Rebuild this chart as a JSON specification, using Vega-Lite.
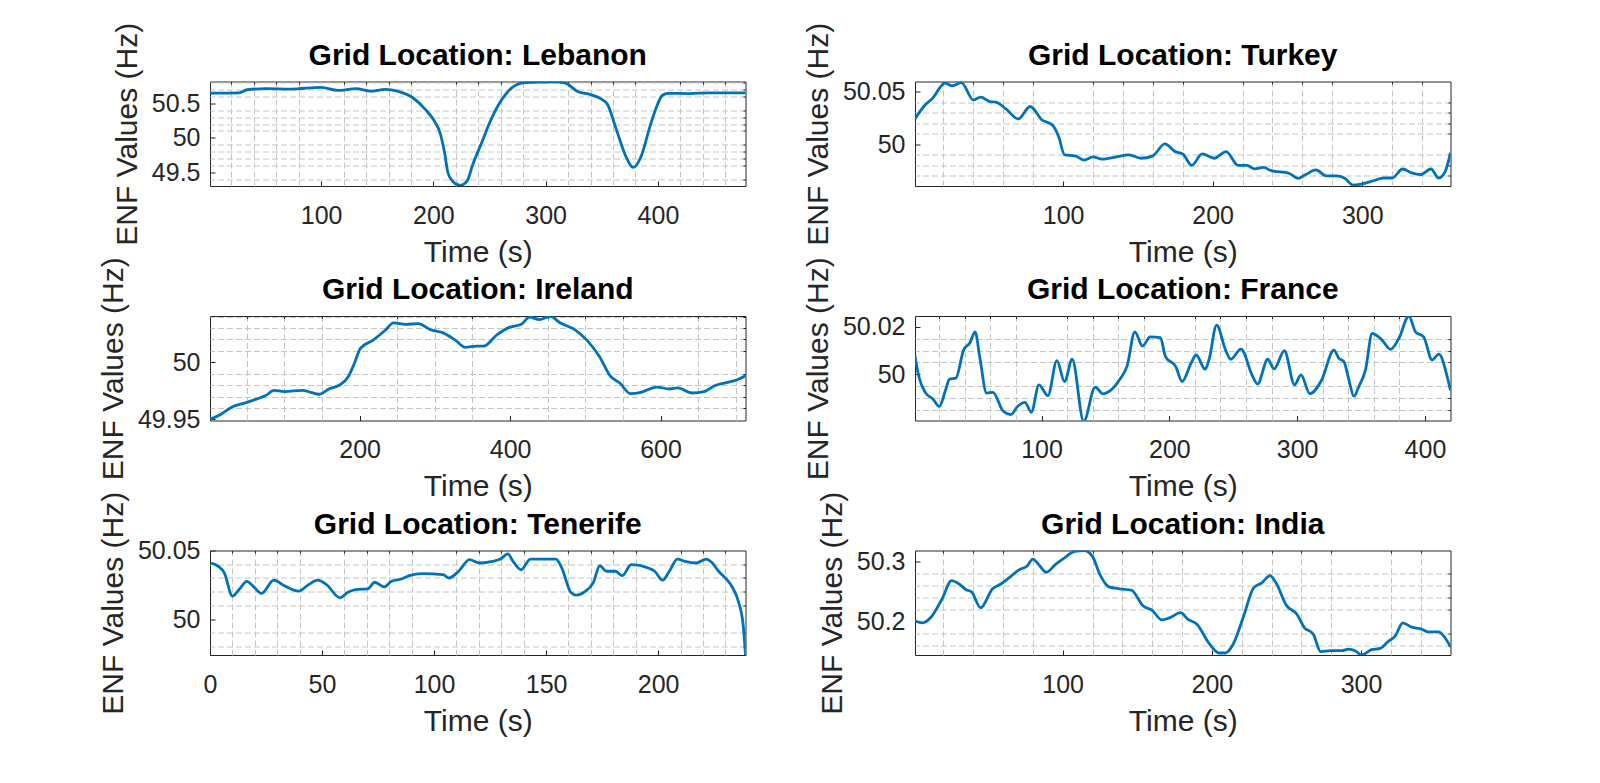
{
  "$schema": "https://vega.github.io/schema/vega-lite/v6.json",
  "background": "white",
  "padding": {"left": 97, "top": 21.5, "right": 5, "bottom": 5},
  "bounds": "flush",
  "columns": 2,
  "spacing": {"row": 129.5, "column": 169},
  "datasets": {
    "lebanon": [
      {"t": 1, "f": 50.65}, {"t": 27, "f": 50.655}, {"t": 34, "f": 50.7}, {"t": 51, "f": 50.715},
      {"t": 73, "f": 50.71}, {"t": 100, "f": 50.735}, {"t": 115, "f": 50.69}, {"t": 131, "f": 50.715},
      {"t": 144, "f": 50.68}, {"t": 157, "f": 50.705}, {"t": 168, "f": 50.68}, {"t": 182, "f": 50.58},
      {"t": 193, "f": 50.41}, {"t": 201, "f": 50.24}, {"t": 206, "f": 50.07}, {"t": 210, "f": 49.78},
      {"t": 213, "f": 49.49}, {"t": 219, "f": 49.34}, {"t": 224, "f": 49.31}, {"t": 230, "f": 49.37},
      {"t": 235, "f": 49.61}, {"t": 243, "f": 49.93}, {"t": 252, "f": 50.29}, {"t": 261, "f": 50.56},
      {"t": 270, "f": 50.73}, {"t": 281, "f": 50.805}, {"t": 292, "f": 50.81}, {"t": 307, "f": 50.815},
      {"t": 317, "f": 50.8}, {"t": 329, "f": 50.67}, {"t": 340, "f": 50.63}, {"t": 349, "f": 50.57},
      {"t": 355, "f": 50.49}, {"t": 363, "f": 50.12}, {"t": 372, "f": 49.71}, {"t": 378, "f": 49.57},
      {"t": 385, "f": 49.73}, {"t": 393, "f": 50.17}, {"t": 399, "f": 50.46}, {"t": 404, "f": 50.62},
      {"t": 409, "f": 50.647}, {"t": 428, "f": 50.645}, {"t": 446, "f": 50.655}, {"t": 478, "f": 50.655}
    ],
    "turkey": [
      {"t": 1, "f": 50.024}, {"t": 7, "f": 50.036}, {"t": 13, "f": 50.044}, {"t": 21, "f": 50.058},
      {"t": 26, "f": 50.0554}, {"t": 32, "f": 50.0585}, {"t": 40, "f": 50.042}, {"t": 45, "f": 50.0446},
      {"t": 51, "f": 50.0405}, {"t": 55, "f": 50.04}, {"t": 62, "f": 50.0332}, {"t": 70, "f": 50.024},
      {"t": 78, "f": 50.0358}, {"t": 86, "f": 50.023}, {"t": 93, "f": 50.018}, {"t": 97, "f": 50.0073},
      {"t": 101, "f": 49.9899}, {"t": 108, "f": 49.989}, {"t": 114, "f": 49.985}, {"t": 120, "f": 49.988},
      {"t": 126, "f": 49.9858}, {"t": 135, "f": 49.9877}, {"t": 144, "f": 49.9899}, {"t": 152, "f": 49.9867},
      {"t": 160, "f": 49.989}, {"t": 168, "f": 50.0003}, {"t": 175, "f": 49.993}, {"t": 180, "f": 49.9908},
      {"t": 186, "f": 49.98}, {"t": 193, "f": 49.9908}, {"t": 201, "f": 49.9867}, {"t": 209, "f": 49.993},
      {"t": 217, "f": 49.98}, {"t": 223, "f": 49.98}, {"t": 228, "f": 49.9766}, {"t": 234, "f": 49.978},
      {"t": 239, "f": 49.975}, {"t": 251, "f": 49.9725}, {"t": 257, "f": 49.9677}, {"t": 262, "f": 49.971},
      {"t": 269, "f": 49.9756}, {"t": 276, "f": 49.97}, {"t": 283, "f": 49.97}, {"t": 288, "f": 49.968},
      {"t": 294, "f": 49.9612}, {"t": 300, "f": 49.9625}, {"t": 308, "f": 49.9656}, {"t": 314, "f": 49.968},
      {"t": 320, "f": 49.968}, {"t": 327, "f": 49.9765}, {"t": 333, "f": 49.9728}, {"t": 339, "f": 49.9712},
      {"t": 346, "f": 49.9765}, {"t": 351, "f": 49.968}, {"t": 355.5, "f": 49.9743}, {"t": 359, "f": 49.992}
    ],
    "ireland": [
      {"t": 1, "f": 49.95}, {"t": 15, "f": 49.9543}, {"t": 31, "f": 49.961}, {"t": 48, "f": 49.9644},
      {"t": 64, "f": 49.968}, {"t": 75, "f": 49.9708}, {"t": 86, "f": 49.9754}, {"t": 100, "f": 49.9743},
      {"t": 124, "f": 49.9754}, {"t": 135, "f": 49.9737}, {"t": 146, "f": 49.972}, {"t": 160, "f": 49.9769},
      {"t": 174, "f": 49.9803}, {"t": 185, "f": 49.9876}, {"t": 193, "f": 49.9991}, {"t": 201, "f": 50.0121},
      {"t": 218, "f": 50.0194}, {"t": 234, "f": 50.028}, {"t": 245, "f": 50.0344}, {"t": 261, "f": 50.0332},
      {"t": 278, "f": 50.0338}, {"t": 294, "f": 50.0286}, {"t": 311, "f": 50.0257}, {"t": 327, "f": 50.0194},
      {"t": 341, "f": 50.013}, {"t": 355, "f": 50.0142}, {"t": 365, "f": 50.0142}, {"t": 382, "f": 50.0237},
      {"t": 398, "f": 50.0303}, {"t": 415, "f": 50.0332}, {"t": 426, "f": 50.0396}, {"t": 439, "f": 50.0373},
      {"t": 453, "f": 50.0402}, {"t": 467, "f": 50.0344}, {"t": 486, "f": 50.0286}, {"t": 502, "f": 50.0194},
      {"t": 519, "f": 50.0049}, {"t": 533, "f": 49.9881}, {"t": 546, "f": 49.9818}, {"t": 560, "f": 49.9725},
      {"t": 574, "f": 49.9737}, {"t": 595, "f": 49.9783}, {"t": 612, "f": 49.9766}, {"t": 623, "f": 49.9775},
      {"t": 642, "f": 49.9731}, {"t": 658, "f": 49.9743}, {"t": 672, "f": 49.9795}, {"t": 689, "f": 49.9824},
      {"t": 702, "f": 49.9847}, {"t": 713, "f": 49.9881}
    ],
    "france": [
      {"t": 1, "f": 50.0077}, {"t": 4, "f": 49.999}, {"t": 9, "f": 49.9923}, {"t": 15, "f": 49.9895},
      {"t": 20, "f": 49.9864}, {"t": 25, "f": 49.9934}, {"t": 28, "f": 49.9979}, {"t": 33, "f": 49.9983},
      {"t": 39, "f": 50.0102}, {"t": 44, "f": 50.0133}, {"t": 48, "f": 50.0179}, {"t": 52, "f": 50.006},
      {"t": 57, "f": 49.992}, {"t": 62, "f": 49.9923}, {"t": 70, "f": 49.9843}, {"t": 76, "f": 49.9829},
      {"t": 81, "f": 49.9862}, {"t": 87, "f": 49.9881}, {"t": 92, "f": 49.9839}, {"t": 98, "f": 49.9955},
      {"t": 105, "f": 49.9909}, {"t": 112, "f": 50.0057}, {"t": 118, "f": 49.9969}, {"t": 124, "f": 50.0063},
      {"t": 133, "f": 49.9801}, {"t": 142, "f": 49.9945}, {"t": 148, "f": 49.9917}, {"t": 154, "f": 49.9931},
      {"t": 161, "f": 49.9976}, {"t": 167, "f": 50.0035}, {"t": 173, "f": 50.0179}, {"t": 179, "f": 50.0119},
      {"t": 185, "f": 50.0158}, {"t": 193, "f": 50.0155}, {"t": 197, "f": 50.0074}, {"t": 205, "f": 50.0032},
      {"t": 210, "f": 49.9969}, {"t": 217, "f": 50.0046}, {"t": 221, "f": 50.0081}, {"t": 228, "f": 50.0021},
      {"t": 231, "f": 50.006}, {"t": 237, "f": 50.0207}, {"t": 244, "f": 50.0102}, {"t": 248, "f": 50.0063},
      {"t": 256, "f": 50.0106}, {"t": 265, "f": 49.9993}, {"t": 269, "f": 49.9958}, {"t": 277, "f": 50.0063},
      {"t": 282, "f": 50.0022}, {"t": 290, "f": 50.0099}, {"t": 298, "f": 49.9955}, {"t": 303, "f": 49.9997},
      {"t": 310, "f": 49.9917}, {"t": 319, "f": 49.9973}, {"t": 328.8, "f": 50.0102}, {"t": 332.7, "f": 50.0067},
      {"t": 336.6, "f": 50.0053}, {"t": 340.5, "f": 49.9976}, {"t": 344.4, "f": 49.9906}, {"t": 348.3, "f": 49.9948},
      {"t": 353.5, "f": 50.0018}, {"t": 358.7, "f": 50.0172}, {"t": 366.5, "f": 50.0144}, {"t": 373, "f": 50.0105},
      {"t": 379.6, "f": 50.0151}, {"t": 387.4, "f": 50.0246}, {"t": 392.6, "f": 50.0179}, {"t": 399, "f": 50.0158},
      {"t": 405.6, "f": 50.006}, {"t": 410.9, "f": 50.0085}, {"t": 417.4, "f": 49.999}, {"t": 420, "f": 49.9931}
    ],
    "tenerife": [
      {"t": 0.5, "f": 50.0409}, {"t": 3.7, "f": 50.0385}, {"t": 6.4, "f": 50.0337}, {"t": 10, "f": 50.0168},
      {"t": 13, "f": 50.0216}, {"t": 16.5, "f": 50.0276}, {"t": 19, "f": 50.0245}, {"t": 23, "f": 50.0188},
      {"t": 28.5, "f": 50.0284}, {"t": 33, "f": 50.0245}, {"t": 39.5, "f": 50.0204}, {"t": 44, "f": 50.0252},
      {"t": 48, "f": 50.0284}, {"t": 52, "f": 50.0252}, {"t": 58, "f": 50.0156}, {"t": 61.6, "f": 50.0197},
      {"t": 65, "f": 50.0216}, {"t": 70.4, "f": 50.0221}, {"t": 73.5, "f": 50.0269}, {"t": 77.8, "f": 50.0236},
      {"t": 81, "f": 50.0276}, {"t": 85.5, "f": 50.0293}, {"t": 89, "f": 50.0317}, {"t": 94.7, "f": 50.0332},
      {"t": 104, "f": 50.0325}, {"t": 106.6, "f": 50.03}, {"t": 111, "f": 50.0349}, {"t": 115.8, "f": 50.0433},
      {"t": 120, "f": 50.0409}, {"t": 126, "f": 50.0421}, {"t": 129.6, "f": 50.0438}, {"t": 133, "f": 50.0476},
      {"t": 135, "f": 50.0428}, {"t": 138.8, "f": 50.036}, {"t": 143, "f": 50.0438}, {"t": 154.4, "f": 50.0438},
      {"t": 157, "f": 50.0373}, {"t": 161, "f": 50.0197}, {"t": 163.6, "f": 50.0175}, {"t": 167, "f": 50.0197},
      {"t": 171, "f": 50.0264}, {"t": 174, "f": 50.0389}, {"t": 177, "f": 50.0349}, {"t": 181, "f": 50.0349},
      {"t": 184, "f": 50.0317}, {"t": 188, "f": 50.0397}, {"t": 195.6, "f": 50.0373}, {"t": 198.5, "f": 50.0349},
      {"t": 202, "f": 50.0284}, {"t": 205, "f": 50.0349}, {"t": 208.6, "f": 50.0438}, {"t": 212, "f": 50.0421},
      {"t": 217, "f": 50.0409}, {"t": 221.5, "f": 50.0438}, {"t": 224, "f": 50.0413}, {"t": 227, "f": 50.0349},
      {"t": 230.7, "f": 50.0288}, {"t": 233, "f": 50.0236}, {"t": 236, "f": 50.012}, {"t": 238, "f": 49.9952},
      {"t": 239, "f": 49.974}
    ],
    "india": [
      {"t": 1, "f": 50.201}, {"t": 6, "f": 50.198}, {"t": 12, "f": 50.208}, {"t": 19, "f": 50.237},
      {"t": 25.6, "f": 50.268}, {"t": 31, "f": 50.2615}, {"t": 35, "f": 50.2533}, {"t": 39, "f": 50.249},
      {"t": 45, "f": 50.223}, {"t": 53, "f": 50.2544}, {"t": 58, "f": 50.2615}, {"t": 64, "f": 50.2725},
      {"t": 71, "f": 50.2863}, {"t": 76, "f": 50.2918}, {"t": 80, "f": 50.3038}, {"t": 84, "f": 50.2945},
      {"t": 89, "f": 50.2819}, {"t": 95, "f": 50.2945}, {"t": 101, "f": 50.3055}, {"t": 108, "f": 50.3165},
      {"t": 114.5, "f": 50.318}, {"t": 120, "f": 50.3082}, {"t": 125, "f": 50.278}, {"t": 131, "f": 50.2577},
      {"t": 138, "f": 50.2544}, {"t": 146, "f": 50.2522}, {"t": 154, "f": 50.2258}, {"t": 160, "f": 50.2187},
      {"t": 166.5, "f": 50.2027}, {"t": 172, "f": 50.2066}, {"t": 179, "f": 50.2148}, {"t": 184, "f": 50.2038},
      {"t": 190, "f": 50.1956}, {"t": 198, "f": 50.1643}, {"t": 205, "f": 50.1478}, {"t": 209, "f": 50.1478},
      {"t": 214, "f": 50.161}, {"t": 221, "f": 50.2066}, {"t": 228, "f": 50.256}, {"t": 233.5, "f": 50.2643},
      {"t": 239, "f": 50.2764}, {"t": 243, "f": 50.2643}, {"t": 250, "f": 50.2269}, {"t": 257, "f": 50.2121},
      {"t": 262, "f": 50.1901}, {"t": 268, "f": 50.1791}, {"t": 273, "f": 50.15}, {"t": 280, "f": 50.1516},
      {"t": 287, "f": 50.1516}, {"t": 292, "f": 50.1544}, {"t": 296, "f": 50.1516}, {"t": 300.5, "f": 50.1445},
      {"t": 307, "f": 50.1533}, {"t": 313, "f": 50.1555}, {"t": 318, "f": 50.1665}, {"t": 323, "f": 50.1764},
      {"t": 328, "f": 50.198}, {"t": 334, "f": 50.1908}, {"t": 340, "f": 50.188}, {"t": 345.4, "f": 50.1828},
      {"t": 352, "f": 50.1828}, {"t": 355.5, "f": 50.1758}, {"t": 360, "f": 50.158}
    ]
  },
  "concat": [
    {
      "title": "Grid Location: Lebanon",
      "width": 535.5, "height": 104.5,
      "data": {"name": "lebanon"},
      "resolve": {"axis": {"x": "independent", "y": "independent"}},
      "layer": [
        {
          "mark": {"type": "line", "opacity": 0},
          "encoding": {
            "x": {"field": "t", "type": "quantitative", "scale": {"domain": [1, 478], "nice": false, "zero": false},
                  "axis": {"orient": "top", "title": null, "values": [20, 40, 60, 80, 120, 140, 160, 180, 220, 240, 260, 280, 320, 340, 360, 380, 420, 440, 460]}},
            "y": {"field": "f", "type": "quantitative", "scale": {"domain": [49.3, 50.82], "nice": false, "zero": false},
                  "axis": {"orient": "right", "title": null, "values": [49.4, 49.6, 49.7, 49.8, 49.9, 50.1, 50.2, 50.3, 50.4, 50.6, 50.7, 50.8]}}
          }
        },
        {
          "mark": {"type": "line", "clip": true},
          "encoding": {
            "x": {"field": "t", "type": "quantitative", "scale": {"domain": [1, 478], "nice": false, "zero": false},
                  "axis": {"orient": "bottom", "title": "Time (s)", "values": [100, 200, 300, 400]}},
            "y": {"field": "f", "type": "quantitative", "scale": {"domain": [49.3, 50.82], "nice": false, "zero": false},
                  "axis": {"orient": "left", "title": "ENF Values (Hz)", "values": [49.5, 50, 50.5]}}
          }
        }
      ]
    },
    {
      "title": "Grid Location: Turkey",
      "width": 535.5, "height": 104.5,
      "data": {"name": "turkey"},
      "resolve": {"axis": {"x": "independent", "y": "independent"}},
      "layer": [
        {
          "mark": {"type": "line", "opacity": 0},
          "encoding": {
            "x": {"field": "t", "type": "quantitative", "scale": {"domain": [1, 359], "nice": false, "zero": false},
                  "axis": {"orient": "top", "title": null, "values": [20, 40, 60, 80, 120, 140, 160, 180, 220, 240, 260, 280, 320, 340]}},
            "y": {"field": "f", "type": "quantitative", "scale": {"domain": [49.9604, 50.0595], "nice": false, "zero": false},
                  "axis": {"orient": "right", "title": null, "values": [49.97, 49.98, 49.99, 50.01, 50.02, 50.03, 50.04]}}
          }
        },
        {
          "mark": {"type": "line", "clip": true},
          "encoding": {
            "x": {"field": "t", "type": "quantitative", "scale": {"domain": [1, 359], "nice": false, "zero": false},
                  "axis": {"orient": "bottom", "title": "Time (s)", "values": [100, 200, 300]}},
            "y": {"field": "f", "type": "quantitative", "scale": {"domain": [49.9604, 50.0595], "nice": false, "zero": false},
                  "axis": {"orient": "left", "title": "ENF Values (Hz)", "values": [50, 50.05]}}
          }
        }
      ]
    },
    {
      "title": "Grid Location: Ireland",
      "width": 535.5, "height": 104.5,
      "data": {"name": "ireland"},
      "resolve": {"axis": {"x": "independent", "y": "independent"}},
      "layer": [
        {
          "mark": {"type": "line", "opacity": 0},
          "encoding": {
            "x": {"field": "t", "type": "quantitative", "scale": {"domain": [1, 713], "nice": false, "zero": false},
                  "axis": {"orient": "top", "title": null, "values": [50, 100, 150, 250, 300, 350, 450, 500, 550, 650, 700]}},
            "y": {"field": "f", "type": "quantitative", "scale": {"domain": [49.949, 50.0405], "nice": false, "zero": false},
                  "axis": {"orient": "right", "title": null, "values": [49.96, 49.97, 49.98, 49.99, 50.01, 50.02, 50.03, 50.04]}}
          }
        },
        {
          "mark": {"type": "line", "clip": true},
          "encoding": {
            "x": {"field": "t", "type": "quantitative", "scale": {"domain": [1, 713], "nice": false, "zero": false},
                  "axis": {"orient": "bottom", "title": "Time (s)", "values": [200, 400, 600]}},
            "y": {"field": "f", "type": "quantitative", "scale": {"domain": [49.949, 50.0405], "nice": false, "zero": false},
                  "axis": {"orient": "left", "title": "ENF Values (Hz)", "values": [49.95, 50]}}
          }
        }
      ]
    },
    {
      "title": "Grid Location: France",
      "width": 535.5, "height": 104.5,
      "data": {"name": "france"},
      "resolve": {"axis": {"x": "independent", "y": "independent"}},
      "layer": [
        {
          "mark": {"type": "line", "opacity": 0},
          "encoding": {
            "x": {"field": "t", "type": "quantitative", "scale": {"domain": [1, 420], "nice": false, "zero": false},
                  "axis": {"orient": "top", "title": null, "values": [20, 40, 60, 80, 120, 140, 160, 180, 220, 240, 260, 280, 320, 340, 360, 380]}},
            "y": {"field": "f", "type": "quantitative", "scale": {"domain": [49.9804, 50.0246], "nice": false, "zero": false},
                  "axis": {"orient": "right", "title": null, "values": [49.985, 49.99, 49.995, 50.005, 50.01, 50.015]}}
          }
        },
        {
          "mark": {"type": "line", "clip": true},
          "encoding": {
            "x": {"field": "t", "type": "quantitative", "scale": {"domain": [1, 420], "nice": false, "zero": false},
                  "axis": {"orient": "bottom", "title": "Time (s)", "values": [100, 200, 300, 400]}},
            "y": {"field": "f", "type": "quantitative", "scale": {"domain": [49.9804, 50.0246], "nice": false, "zero": false},
                  "axis": {"orient": "left", "title": "ENF Values (Hz)", "values": [50, 50.02]}}
          }
        }
      ]
    },
    {
      "title": "Grid Location: Tenerife",
      "width": 535.5, "height": 104.5,
      "data": {"name": "tenerife"},
      "resolve": {"axis": {"x": "independent", "y": "independent"}},
      "layer": [
        {
          "mark": {"type": "line", "opacity": 0},
          "encoding": {
            "x": {"field": "t", "type": "quantitative", "scale": {"domain": [0, 239], "nice": false, "zero": false},
                  "axis": {"orient": "top", "title": null, "values": [10, 20, 30, 40, 60, 70, 80, 90, 110, 120, 130, 140, 160, 170, 180, 190, 210, 220, 230]}},
            "y": {"field": "f", "type": "quantitative", "scale": {"domain": [49.974, 50.05], "nice": false, "zero": false},
                  "axis": {"orient": "right", "title": null, "values": [49.98, 49.99, 50.01, 50.02, 50.03, 50.04]}}
          }
        },
        {
          "mark": {"type": "line", "clip": true},
          "encoding": {
            "x": {"field": "t", "type": "quantitative", "scale": {"domain": [0, 239], "nice": false, "zero": false},
                  "axis": {"orient": "bottom", "title": "Time (s)", "values": [0, 50, 100, 150, 200]}},
            "y": {"field": "f", "type": "quantitative", "scale": {"domain": [49.974, 50.05], "nice": false, "zero": false},
                  "axis": {"orient": "left", "title": "ENF Values (Hz)", "values": [50, 50.05]}}
          }
        }
      ]
    },
    {
      "title": "Grid Location: India",
      "width": 535.5, "height": 104.5,
      "data": {"name": "india"},
      "resolve": {"axis": {"x": "independent", "y": "independent"}},
      "layer": [
        {
          "mark": {"type": "line", "opacity": 0},
          "encoding": {
            "x": {"field": "t", "type": "quantitative", "scale": {"domain": [1, 360], "nice": false, "zero": false},
                  "axis": {"orient": "top", "title": null, "values": [20, 40, 60, 80, 120, 140, 160, 180, 220, 240, 260, 280, 320, 340]}},
            "y": {"field": "f", "type": "quantitative", "scale": {"domain": [50.1445, 50.318], "nice": false, "zero": false},
                  "axis": {"orient": "right", "title": null, "values": [50.16, 50.18, 50.22, 50.24, 50.26, 50.28]}}
          }
        },
        {
          "mark": {"type": "line", "clip": true},
          "encoding": {
            "x": {"field": "t", "type": "quantitative", "scale": {"domain": [1, 360], "nice": false, "zero": false},
                  "axis": {"orient": "bottom", "title": "Time (s)", "values": [100, 200, 300]}},
            "y": {"field": "f", "type": "quantitative", "scale": {"domain": [50.1445, 50.318], "nice": false, "zero": false},
                  "axis": {"orient": "left", "title": "ENF Values (Hz)", "values": [50.2, 50.3]}}
          }
        }
      ]
    }
  ],
  "config": {
    "font": "Liberation Sans",
    "numberFormat": ".6~r",
    "view": {"stroke": "#262626", "strokeWidth": 1},
    "line": {"color": "#0072BD", "strokeWidth": 2.8, "interpolate": "monotone"},
    "title": {"fontSize": 30, "fontWeight": "bold", "color": "#000000", "baseline": "alphabetic", "offset": 12, "dy": 60.3, "anchor": "middle", "frame": "group"},
    "axis": {
      "domain": false, "labelFontSize": 25, "labelColor": "#262626", "labelFlush": false, "labelOverlap": false,
      "titleFontSize": 30, "titleFontWeight": "normal", "titleColor": "#262626", "tickColor": "#262626", "tickWidth": 1
    },
    "axisBottom": {"grid": true, "gridColor": "#DFDFDF", "gridWidth": 1, "tickSize": -5, "labelPadding": 22, "titlePadding": 9},
    "axisLeft": {"grid": true, "gridColor": "#DFDFDF", "gridWidth": 1, "tickSize": -5, "labelPadding": 15, "titlePadding": 9},
    "axisTop": {"grid": true, "gridColor": "#C6C6C6", "gridDash": [6, 3], "gridWidth": 1, "labels": false, "tickSize": -2.5},
    "axisRight": {"grid": true, "gridColor": "#C6C6C6", "gridDash": [6, 3], "gridWidth": 1, "labels": false, "tickSize": -2.5}
  }
}
